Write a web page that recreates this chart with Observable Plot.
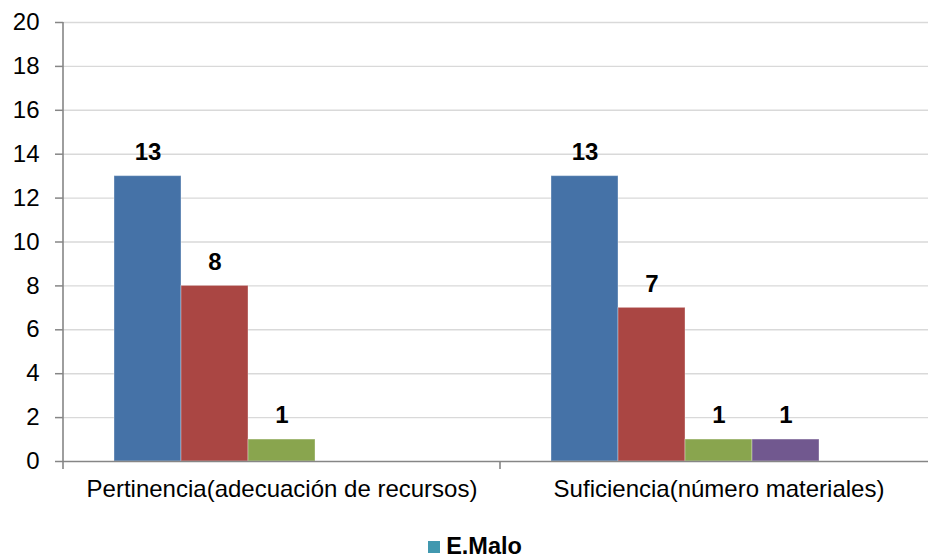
<!DOCTYPE html>
<html>
<head>
<meta charset="utf-8">
<script src="https://cdn.jsdelivr.net/npm/d3@7"></script>
<script src="https://cdn.jsdelivr.net/npm/@observablehq/plot@0.6"></script>
<style>
  html, body { margin: 0; padding: 0; background: #fff; }
  body { width: 928px; height: 560px; overflow: hidden; font-family: "Liberation Sans", Arial, sans-serif; }
  #legend { display: flex; justify-content: center; align-items: center; padding-top: 18px; padding-left: 22px; font-size: 23.5px; font-weight: bold; color: #000; }
  #legend .sw { width: 12px; height: 12px; margin-right: 6px; display: inline-block; }
</style>
</head>
<body>
<div id="chart"></div>
<div id="legend"></div>
<script>
const categories = ["Pertinencia(adecuación de recursos)", "Suficiencia(número materiales)"];
const seriesNames = ["Serie 1", "Serie 2", "Serie 3", "Serie 4", "E.Malo"];
const serie1 = [13, 13];
const serie2 = [8, 7];
const serie3 = [1, 1];
const serie4 = [null, 1];
const eMalo = [null, null];
const seriesColors = ["#4572A7", "#AA4643", "#89A54E", "#71588F", "#4198AF"];
const yTicks = [0, 2, 4, 6, 8, 10, 12, 14, 16, 18, 20];
const legendSeries = ["E.Malo"];

const allSeries = [serie1, serie2, serie3, serie4, eMalo];
const data = [];
categories.forEach((c, ci) => {
  seriesNames.forEach((s, si) => {
    data.push({category: c, series: s, value: allSeries[si][ci]});
  });
});
const shown = data.filter(d => d.value != null);

const chart = Plot.plot({
  width: 928,
  height: 515,
  marginLeft: 62,
  marginRight: -9,
  marginTop: 22,
  marginBottom: 54,
  style: {fontFamily: "'Liberation Sans', Arial, sans-serif", fontSize: "24px", color: "#000", background: "#fff"},
  fx: {domain: categories, padding: 0, label: null},
  x: {domain: seriesNames, paddingInner: 0, paddingOuter: 0.76, axis: null},
  y: {domain: [0, 20], label: null},
  color: {domain: seriesNames, range: seriesColors},
  marks: [
    Plot.ruleY(yTicks.filter(v => v > 0), {stroke: "#d9d9d9", strokeWidth: 1.4}),
    Plot.barY(shown, {fx: "category", x: "series", y: "value", fill: "series", stroke: "#ffffff", strokeOpacity: 0.35, strokeWidth: 1}),
    Plot.text(shown, {fx: "category", x: "series", y: "value", text: d => String(d.value), dy: -24, fontWeight: "bold", fontSize: 24, fill: "#000"}),
    Plot.ruleY([0], {stroke: "#868686", strokeWidth: 1.6}),
    Plot.axisY({ticks: yTicks, tickSize: 8, tickPadding: 16, stroke: "#868686", strokeWidth: 1.5, fontSize: 24, label: null}),
    Plot.axisFx({anchor: "bottom", tickSize: 0, tickPadding: 18, fontSize: 24, label: null})
  ]
});
document.getElementById("chart").appendChild(chart);

// y axis line and category boundary ticks, positioned via the chart's own scales
const fx = chart.scale("fx");
const y = chart.scale("y");
const svg = d3.select(chart);
const y0 = y.apply(0), y20 = y.apply(20);
const xLeft = fx.apply(categories[0]);
svg.append("line")
  .attr("x1", xLeft).attr("x2", xLeft)
  .attr("y1", y20).attr("y2", y0 + 8)
  .attr("stroke", "#868686").attr("stroke-width", 1.6);
categories.slice(1).forEach(c => {
  const xb = fx.apply(c);
  svg.append("line")
    .attr("x1", xb).attr("x2", xb)
    .attr("y1", y0).attr("y2", y0 + 8)
    .attr("stroke", "#868686").attr("stroke-width", 1.6);
});

const legend = d3.select("#legend");
legendSeries.forEach(s => {
  const item = legend.append("span").style("display", "inline-flex").style("align-items", "center");
  item.append("span").attr("class", "sw").style("background", seriesColors[seriesNames.indexOf(s)]);
  item.append("span").text(s);
});
</script>
</body>
</html>
